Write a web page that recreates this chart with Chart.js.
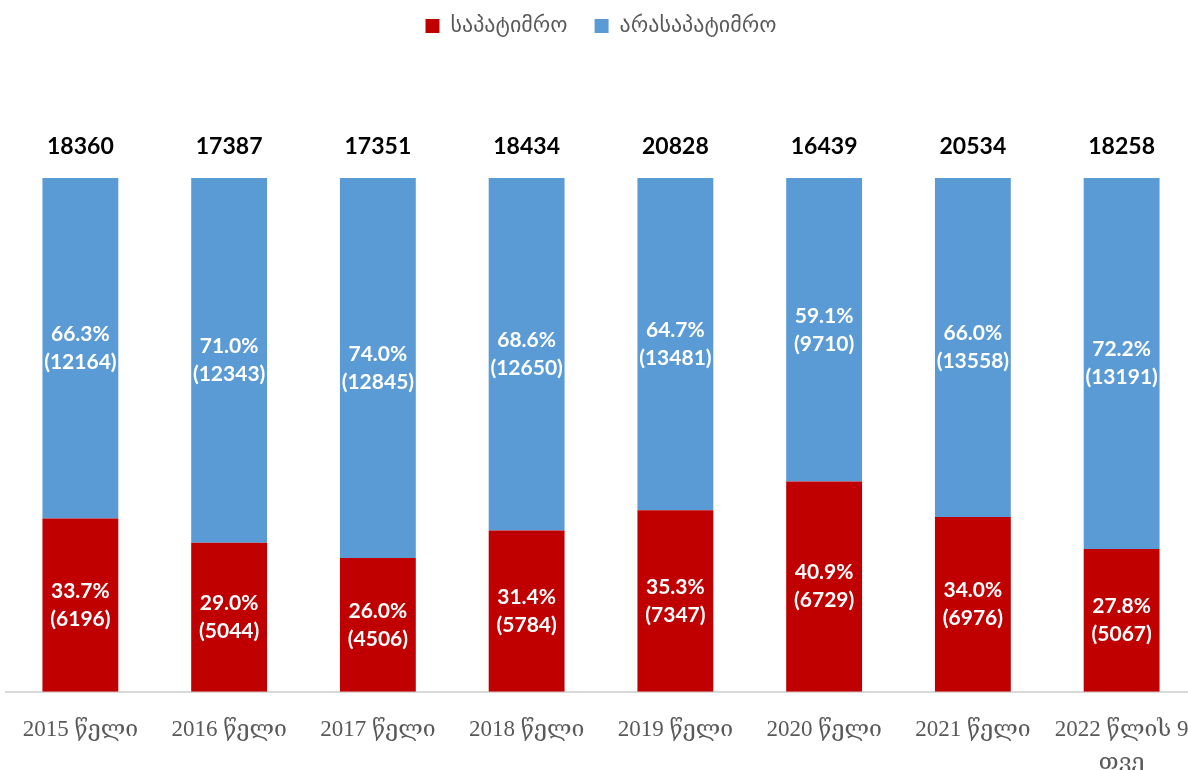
<!DOCTYPE html>
<html>
<head>
<meta charset="utf-8">
<script src="https://cdn.jsdelivr.net/npm/chart.js@4.4.0/dist/chart.umd.min.js"></script>
<style>
html,body{margin:0;padding:0;background:#fff;overflow:hidden;}
#wrap{width:1188px;height:770px;overflow:hidden;}
</style>
</head>
<body>
<div id="wrap"><canvas id="c" width="1196" height="770"></canvas></div>
<script>
const categories = ["2015 წელი","2016 წელი","2017 წელი","2018 წელი","2019 წელი","2020 წელი","2021 წელი",["2022 წლის 9","თვე"]];
const seriesNames = ["საპატიმრო","არასაპატიმრო"];
const pctCustodial = [33.7,29.0,26.0,31.4,35.3,40.9,34.0,27.8];
const pctNonCustodial = [66.3,71.0,74.0,68.6,64.7,59.1,66.0,72.2];
const countCustodial = [6196,5044,4506,5784,7347,6729,6976,5067];
const countNonCustodial = [12164,12343,12845,12650,13481,9710,13558,13191];
const totals = [18360,17387,17351,18434,20828,16439,20534,18258];

const counts = [countCustodial, countNonCustodial];

const labelPlugin = {
  id: 'labels',
  afterDatasetsDraw(chart) {
    const ctx = chart.ctx;
    ctx.save();
    ctx.textAlign = 'center';
    ctx.textBaseline = 'middle';
    chart.data.datasets.forEach((ds, di) => {
      const meta = chart.getDatasetMeta(di);
      meta.data.forEach((bar, i) => {
        const cy = (bar.y + bar.base) / 2;
        ctx.fillStyle = '#ffffff';
        ctx.font = 'bold 21px Lato, "DejaVu Sans", sans-serif';
        ctx.fillText(ds.data[i].toFixed(1) + '%', bar.x, cy - 14);
        ctx.fillText('(' + counts[di][i] + ')', bar.x, cy + 14);
      });
    });
    const top = chart.getDatasetMeta(1);
    top.data.forEach((bar, i) => {
      ctx.fillStyle = '#000000';
      ctx.font = 'bold 23px Lato, "DejaVu Sans", sans-serif';
      ctx.fillText(String(totals[i]), bar.x, bar.y - 31);
    });
    ctx.restore();
  }
};

new Chart(document.getElementById('c'), {
  type: 'bar',
  data: {
    labels: categories,
    datasets: [
      { label: seriesNames[0], data: pctCustodial, backgroundColor: '#C00000', barPercentage: 0.51, categoryPercentage: 1.0 },
      { label: seriesNames[1], data: pctNonCustodial, backgroundColor: '#5B9BD5', barPercentage: 0.51, categoryPercentage: 1.0 }
    ]
  },
  options: {
    responsive: false,
    animation: false,
    layout: { padding: { left: 6, right: 0, top: -12, bottom: -9 } },
    plugins: {
      legend: {
        position: 'top',
        labels: {
          boxWidth: 14, boxHeight: 14, padding: 27,
          color: '#595959',
          font: { family: '"DejaVu Sans", sans-serif', size: 22 }
        }
      },
      tooltip: { enabled: false }
    },
    scales: {
      x: {
        stacked: true,
        grid: { display: true, drawOnChartArea: false, drawTicks: true, tickLength: 22, tickColor: 'rgba(0,0,0,0)', color: 'rgba(0,0,0,0)' },
        border: { display: true, color: '#d9d9d9', width: 2 },
        ticks: {
          color: '#595959',
          padding: 0,
          maxRotation: 0,
          autoSkip: false,
          font: { family: '"Liberation Serif", "DejaVu Serif", serif', size: 23, lineHeight: 1.42 }
        }
      },
      y: {
        stacked: true,
        display: false,
        min: 0,
        max: 100
      }
    }
  },
  plugins: [labelPlugin, {
    id: 'legendPad',
    beforeInit(chart) {
      const orig = chart.legend.fit;
      chart.legend.fit = function() { orig.bind(chart.legend)(); this.height += 131; };
    }
  }]
});
</script>
</body>
</html>
